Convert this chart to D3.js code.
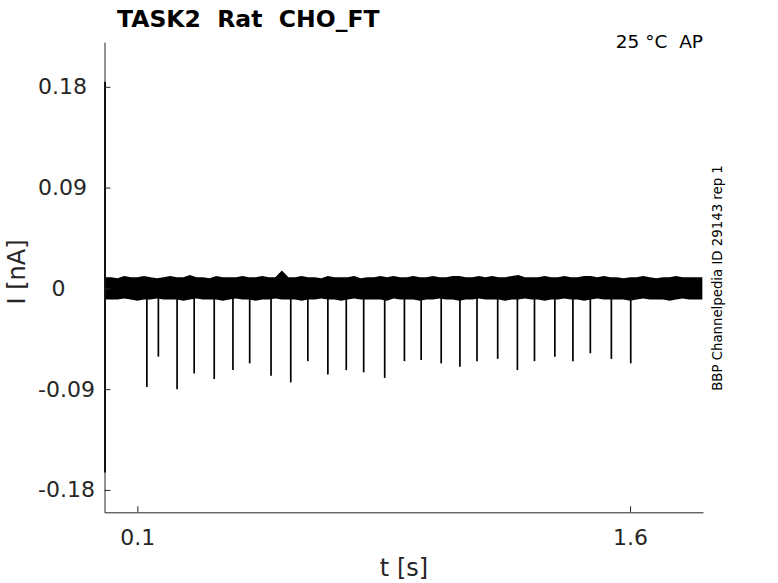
<!DOCTYPE html>
<html>
<head>
<meta charset="utf-8">
<title>TASK2 Rat CHO_FT</title>
<script src="https://cdn.jsdelivr.net/npm/d3@7"></script>
<style>
  body { margin: 0; background: #fff; }
  svg text { font-family: "DejaVu Sans", sans-serif; fill: #262626; white-space: pre; }
  .axis path, .axis line { stroke: #262626; stroke-width: 1; }
</style>
</head>
<body>
<svg id="chart" width="778" height="583"></svg>
<script>
// sample grid of the noise band (s), one read every 0.02 s
const bandStep = 0.02;
// upper and lower edge of the noise band (nA)
const bandUpper = [
  0.010, 0.010, 0.009, 0.011, 0.010, 0.010, 0.011, 0.010, 0.009, 0.010,
  0.011, 0.010, 0.010, 0.012, 0.010, 0.010, 0.009, 0.011, 0.010, 0.010,
  0.010, 0.011, 0.010, 0.010, 0.011, 0.010, 0.010, 0.016, 0.010, 0.010,
  0.011, 0.010, 0.010, 0.009, 0.011, 0.010, 0.010, 0.010, 0.011, 0.009,
  0.010, 0.010, 0.011, 0.010, 0.011, 0.010, 0.010, 0.011, 0.010, 0.010,
  0.011, 0.010, 0.010, 0.011, 0.011, 0.010, 0.010, 0.011, 0.010, 0.011,
  0.010, 0.010, 0.011, 0.012, 0.010, 0.010, 0.010, 0.011, 0.010, 0.010,
  0.011, 0.010, 0.010, 0.011, 0.011, 0.010, 0.011, 0.010, 0.010, 0.009,
  0.010, 0.010, 0.011, 0.010, 0.009, 0.010, 0.010, 0.011, 0.010, 0.010,
  0.010, 0.010
];
const bandLower = [
  -0.010, -0.010, -0.010, -0.009, -0.010, -0.011, -0.010, -0.010, -0.009, -0.010,
  -0.010, -0.010, -0.011, -0.010, -0.009, -0.010, -0.010, -0.010, -0.011, -0.010,
  -0.009, -0.010, -0.010, -0.011, -0.010, -0.010, -0.009, -0.010, -0.010, -0.010,
  -0.011, -0.010, -0.010, -0.009, -0.010, -0.010, -0.011, -0.010, -0.009, -0.010,
  -0.010, -0.010, -0.010, -0.011, -0.009, -0.010, -0.010, -0.010, -0.011, -0.010,
  -0.010, -0.009, -0.010, -0.010, -0.011, -0.010, -0.010, -0.009, -0.010, -0.010,
  -0.010, -0.011, -0.010, -0.010, -0.009, -0.010, -0.010, -0.011, -0.010, -0.010,
  -0.009, -0.010, -0.010, -0.011, -0.010, -0.009, -0.010, -0.010, -0.010, -0.010,
  -0.011, -0.010, -0.009, -0.010, -0.010, -0.010, -0.011, -0.010, -0.009, -0.010,
  -0.010, -0.010
];

// action-potential spikes: time (s) and peak (nA)
const spikeTimes = [
  0.129, 0.164, 0.221, 0.273, 0.334, 0.391, 0.442, 0.507, 0.567, 0.619,
  0.680, 0.736, 0.789, 0.853, 0.913, 0.964, 1.025, 1.082, 1.134, 1.197,
  1.257, 1.309, 1.371, 1.426, 1.479, 1.543, 1.602
];
const spikePeaks = [
  -0.088, -0.061, -0.090, -0.076, -0.081, -0.073, -0.067, -0.078, -0.084, -0.065,
  -0.077, -0.073, -0.075, -0.080, -0.065, -0.064, -0.067, -0.070, -0.065, -0.063,
  -0.073, -0.065, -0.061, -0.065, -0.058, -0.063, -0.067
];

// capacitive transient at the very start: [max, min] (nA)
const transient = [0.1845, -0.1645];

const xTicks = [0.1, 1.6];
const yTicks = [-0.18, -0.09, 0, 0.09, 0.18];

const svg = d3.select("#chart");
const m = { left: 104.5, right: 703, top: 42, bottom: 512.3 };

const x = d3.scaleLinear().domain([0, 1.822]).range([m.left, m.right]);
const y = d3.scaleLinear().domain([-0.2, 0.22]).range([m.bottom, m.top]);

const fmt = d3.formatLocale({ decimal: ".", thousands: ",", grouping: [3], currency: ["", ""], minus: "-" });

const band = bandUpper.map((u, i) => ({ t: i * bandStep, hi: u, lo: bandLower[i] }));

// noise band
svg.append("path")
  .datum(band)
  .attr("d", d3.area().x(d => x(d.t)).y0(d => y(d.lo)).y1(d => y(d.hi)))
  .attr("fill", "#000");

// spikes hang down from the baseline
svg.append("g")
  .selectAll("line")
  .data(spikeTimes)
  .join("line")
  .attr("x1", d => x(d)).attr("x2", d => x(d))
  .attr("y1", y(0))
  .attr("y2", (d, i) => y(spikePeaks[i]))
  .attr("stroke", "#000")
  .attr("stroke-width", 1.7);

// transient
svg.append("line")
  .attr("x1", x(0) + 0.5).attr("x2", x(0) + 0.5)
  .attr("y1", y(transient[0])).attr("y2", y(transient[1]))
  .attr("stroke", "#000")
  .attr("stroke-width", 2);

// axes, ticks pointing inward
const xAxis = svg.append("g")
  .attr("class", "axis")
  .attr("transform", `translate(0,${m.bottom})`)
  .call(d3.axisBottom(x).tickValues(xTicks).tickSize(-6).tickSizeOuter(0).tickFormat(fmt.format(".1f")));
xAxis.selectAll("text")
  .attr("y", 17)
  .attr("font-size", 22);

const yAxis = svg.append("g")
  .attr("class", "axis")
  .attr("transform", `translate(${m.left},0)`)
  .call(d3.axisLeft(y).tickValues(yTicks).tickSize(-6).tickSizeOuter(0)
    .tickFormat(d => d === 0 ? "0" : fmt.format(".2f")(d)));
yAxis.selectAll("text")
  .attr("text-anchor", "middle")
  .attr("x", d => d < 0 ? -38 : (d === 0 ? -46 : -42))
  .attr("font-size", 22);
svg.selectAll(".axis .domain").attr("stroke", "#262626");
svg.selectAll(".axis text").attr("fill", "#262626");

// labels
svg.append("text")
  .attr("x", 404).attr("y", 576)
  .attr("text-anchor", "middle")
  .attr("font-size", 24)
  .text("t [s]");

svg.append("text")
  .attr("transform", "translate(25,272) rotate(-90)")
  .attr("text-anchor", "middle")
  .attr("font-size", 24)
  .text("I [nA]");

svg.append("text")
  .attr("x", 117).attr("y", 27)
  .attr("font-size", 23.5)
  .attr("font-weight", "bold")
  .style("fill", "#000")
  .text("TASK2  Rat  CHO_FT");

svg.append("text")
  .attr("x", 703).attr("y", 48)
  .attr("text-anchor", "end")
  .attr("font-size", 18.5)
  .style("fill", "#000")
  .text("25 °C  AP");

svg.append("text")
  .attr("transform", "translate(722,278) rotate(-90)")
  .attr("text-anchor", "middle")
  .attr("font-size", 13.3)
  .style("fill", "#000")
  .text("BBP Channelpedia ID 29143 rep 1");
</script>
</body>
</html>
